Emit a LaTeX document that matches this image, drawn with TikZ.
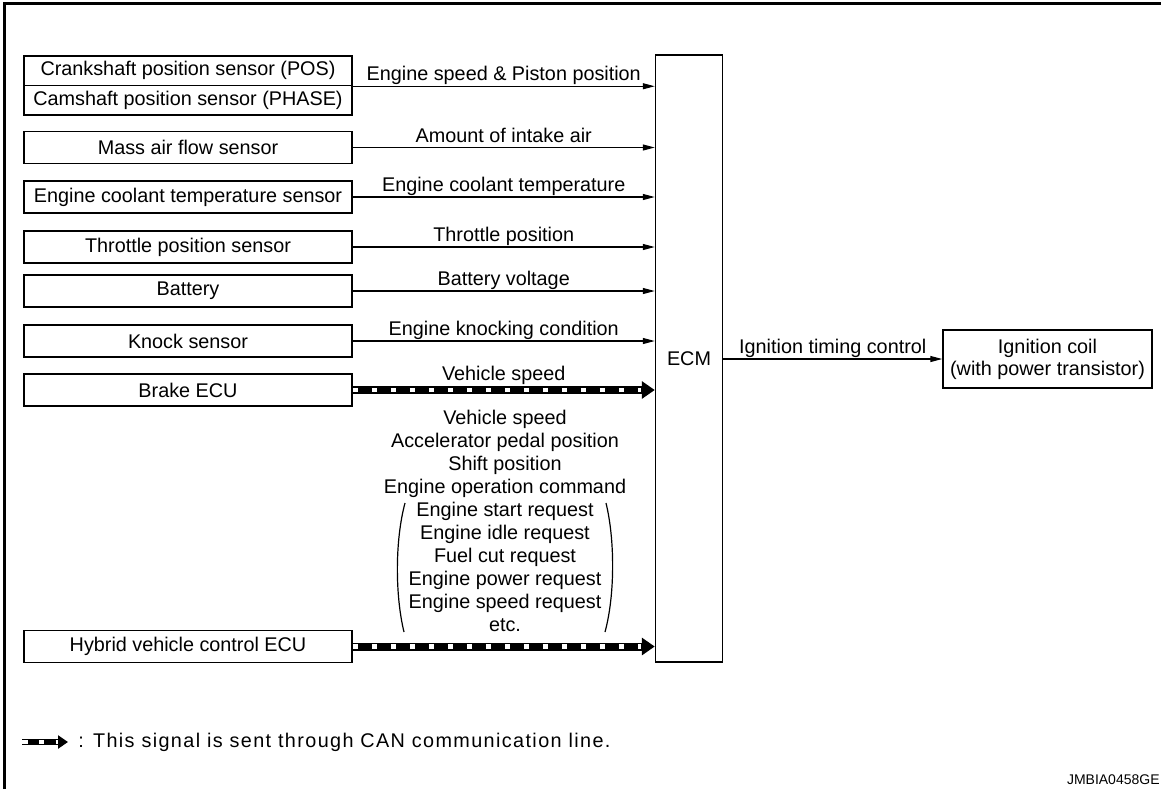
\documentclass[tikz,border=0pt]{standalone}
\usepackage{fontspec}
\setmainfont{Liberation Sans}
\usetikzlibrary{arrows.meta}

\begin{document}
\begin{tikzpicture}[x=0.5pt, y=-0.5pt,
    font=\fontsize{9.9}{11.5}\selectfont,
    box/.style={draw, line width=0.75pt, minimum width=164pt, minimum height=16pt, inner sep=0pt},
    sig/.style={line width=0.6pt, -{Triangle[length=6pt,width=3pt]}},
    can/.style={line width=4pt, -{Triangle[length=6.5pt,width=8.5pt]},
        postaction={draw=white, line width=2.2pt, dash pattern=on 2.8pt off 6.7pt, shorten >=7pt, -}},
    canleg/.style={line width=3pt, -{Triangle[length=5pt,width=6.5pt]},
        postaction={draw=white, line width=1.6pt, dash pattern=on 2.8pt off 5.6pt, shorten >=5pt, -}},
    lbl/.style={anchor=base, yshift=2.75pt, inner sep=0pt},
    canlbl/.style={anchor=base, yshift=5pt, inner sep=0pt}]

    \useasboundingbox (0,0) rectangle (1161,789);

    % frame
    \draw[line width=1.75pt] (4.5,789) -- (4.5,3.5) -- (1161,3.5);

    % input sensors
    \node[box, minimum height=14.75pt] (crank) at (188,70.75) {Crankshaft position sensor (POS)};
    \node[box, minimum height=14.75pt] (cam) at (188,100.25) {Camshaft position sensor (PHASE)};
    \node[box] (maf) at (188,147.5) {Mass air flow sensor};
    \node[box] (ect) at (188,197) {Engine coolant temperature sensor};
    \node[box] (tps) at (188,247) {Throttle position sensor};
    \node[box] (batt) at (188,291) {Battery};
    \node[box] (knock) at (188,341) {Knock sensor};
    \node[box] (brake) at (188,390) {Brake ECU};
    \node[box] (hvecu) at (188,646.5) {Hybrid vehicle control ECU};

    % control unit and output
    \node[draw, line width=0.75pt, minimum width=33.5pt, minimum height=303.5pt] (ecm) at (689,358.5) {ECM};
    \node[draw, line width=0.75pt, minimum width=104.5pt, minimum height=29pt, align=center, inner sep=0pt,
          font=\fontsize{9.9}{11}\selectfont] (ign) at (1047.5,359) {Ignition coil\\(with power transistor)};

    % signals
    \draw[sig] (crank.south east) -- (crank.south east -| ecm.west)
        node[lbl, midway] (lpos) {Engine speed \& Piston position};
    \draw[sig] (maf.east) -- (maf.east -| ecm.west)
        node[lbl, midway] (lmaf) {Amount of intake air};
    \draw[sig] (ect.east) -- (ect.east -| ecm.west)
        node[lbl, midway] (lect) {Engine coolant temperature};
    \draw[sig] (tps.east) -- (tps.east -| ecm.west)
        node[lbl, midway] (ltps) {Throttle position};
    \draw[sig] (batt.east) -- (batt.east -| ecm.west)
        node[lbl, midway] (lbatt) {Battery voltage};
    \draw[sig] (knock.east) -- (knock.east -| ecm.west)
        node[lbl, midway] (lknock) {Engine knocking condition};
    \draw[can] (brake.east) -- (brake.east -| ecm.west)
        node[canlbl, midway] (lbrake) {Vehicle speed};
    \draw[can] (hvecu.east) -- (hvecu.east -| ecm.west);
    \draw[sig] (ecm.east |- ign.west) -- (ign.west)
        node[lbl, midway] (lign) {Ignition timing control};

    % CAN signal list
    \node[align=center, inner sep=0pt] (canlist) at (505,520.5) {Vehicle speed\\Accelerator pedal position\\Shift position\\
        Engine operation command\\Engine start request\\Engine idle request\\Fuel cut request\\
        Engine power request\\Engine speed request\\etc.};
    \draw[line width=0.6pt] (405,503) .. controls (395,540) and (395,595) .. (404,632);
    \draw[line width=0.6pt] (606,503) .. controls (615,540) and (615,595) .. (605,632);

    % legend
    \coordinate (lega) at (22,742);
    \coordinate (legb) at (68,742);
    \draw[canleg] (lega) -- (legb);
    \node[anchor=west, inner sep=0pt] (legtxt) at (78,742)
        {\addfontfeature{LetterSpace=7}: This signal is sent through CAN communication line.};

    \node[anchor=east, inner sep=0pt, font=\fontsize{7}{8}\selectfont] (fig) at (1160,780) {JMBIA0458GE};

\end{tikzpicture}
\end{document}
